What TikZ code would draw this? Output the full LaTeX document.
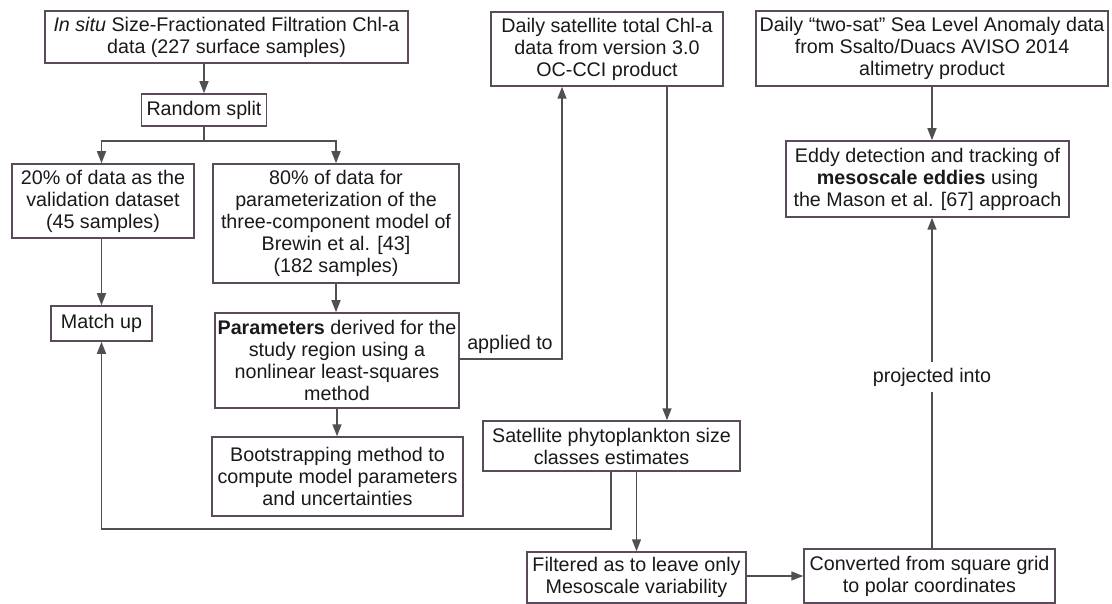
\documentclass[tikz,border=0pt]{standalone}
\usepackage{fontspec}
\setmainfont{Liberation Sans}
\usetikzlibrary{arrows.meta}
\definecolor{boxcol}{RGB}{90,75,90}
\definecolor{linecol}{RGB}{80,80,80}
\definecolor{txtcol}{RGB}{25,25,25}
\tikzset{
  bx/.style={draw=boxcol, line width=1.5pt, align=center, inner sep=0pt, text=txtcol,
    font=\fontsize{19.7}{22}\selectfont},
  cn/.style={draw=linecol, line width=1.6pt},
  ar/.style={cn, -{Triangle[length=12pt,width=9pt]}},
  lbl/.style={text=txtcol, font=\fontsize{19.7}{22}\selectfont, inner sep=1pt}
}
\begin{document}
\begin{tikzpicture}[x=1pt,y=-1pt]
\useasboundingbox (0,0) rectangle (1112,604);
\node[bx, minimum width=363pt, minimum height=52pt] (insitu) at (226.5,37) {\textit{In situ} Size-Fractionated Filtration Chl-a\\data (227 surface samples)};
\node[bx, minimum width=125pt, minimum height=32pt] (split) at (204,110) {Random split};
\node[bx, minimum width=182pt, minimum height=74pt] (v20) at (103,201) {20\% of data as the\\validation dataset\\(45 samples)};
\node[bx, minimum width=246pt, minimum height=119pt] (v80) at (336,223.5) {80\% of data for\\parameterization of the\\three-component model of\\Brewin et al. [43]\\(182 samples)};
\node[bx, minimum width=101pt, minimum height=35pt] (match) at (101.5,323.5) {Match up};
\node[bx, minimum width=244pt, minimum height=95pt] (params) at (337,360.5) {\textbf{Parameters} derived for the\\study region using a\\nonlinear least-squares\\method};
\node[bx, minimum width=251pt, minimum height=79pt] (boot) at (337.5,476.5) {Bootstrapping method to\\compute model parameters\\and uncertainties};
\node[bx, minimum width=232pt, minimum height=74pt] (dsat) at (607,49) {Daily satellite total Chl-a\\data from version 3.0\\OC-CCI product};
\node[bx, minimum width=352pt, minimum height=75pt] (twosat) at (932,48.5) {Daily “two-sat” Sea Level Anomaly data\\from Ssalto/Duacs AVISO 2014\\altimetry product};
\node[bx, minimum width=283pt, minimum height=76pt] (eddy) at (927.5,179) {Eddy detection and tracking of\\\textbf{mesoscale eddies} using\\the Mason et al. [67] approach};
\node[bx, minimum width=257pt, minimum height=50pt] (psc) at (611.5,446) {Satellite phytoplankton size\\classes estimates};
\node[bx, minimum width=219pt, minimum height=51pt] (filt) at (636.5,577.5) {Filtered as to leave only\\Mesoscale variability};
\node[bx, minimum width=251pt, minimum height=54pt] (conv) at (929.5,576) {Converted from square grid\\to polar coordinates};

\coordinate (splitj) at (204,141);
\coordinate (appl) at (562,359);
\coordinate (loop) at (611,529);

\draw[ar] (insitu.south -| split.north) -- (split.north);
\draw[cn] (split.south) -- (splitj);
\draw[ar] (splitj) -| (v20.north -| match.north);
\draw[ar] (splitj) -| (v80.north);
\draw[ar] (v20.south -| match.north) -- (match.north);
\draw[ar] (v80.south) -- (params.north -| v80.south);
\draw[ar] (params.south) -- (boot.north -| params.south);
\draw[ar] (params.east |- appl) -- (appl) -- (dsat.south -| appl);
\node[lbl, anchor=south] (appliedlbl) at (510,355) {applied to};
\draw[ar] (dsat.south -| 667,0) -- (psc.north -| 667,0);
\draw[ar] (psc.south -| loop) -- (loop) -| (match.south);
\draw[ar] (psc.south -| filt.north) -- (filt.north);
\draw[ar] (filt.east |- 0,576) -- (conv.west |- 0,576);
\draw[ar] (twosat.south) -- (eddy.north -| twosat.south);
\draw[ar] (conv.north -| twosat.south) -- node[pos=0.518, lbl, fill=white, inner ysep=6pt] (projlbl) {projected into} (eddy.south -| twosat.south);
\end{tikzpicture}
\end{document}
